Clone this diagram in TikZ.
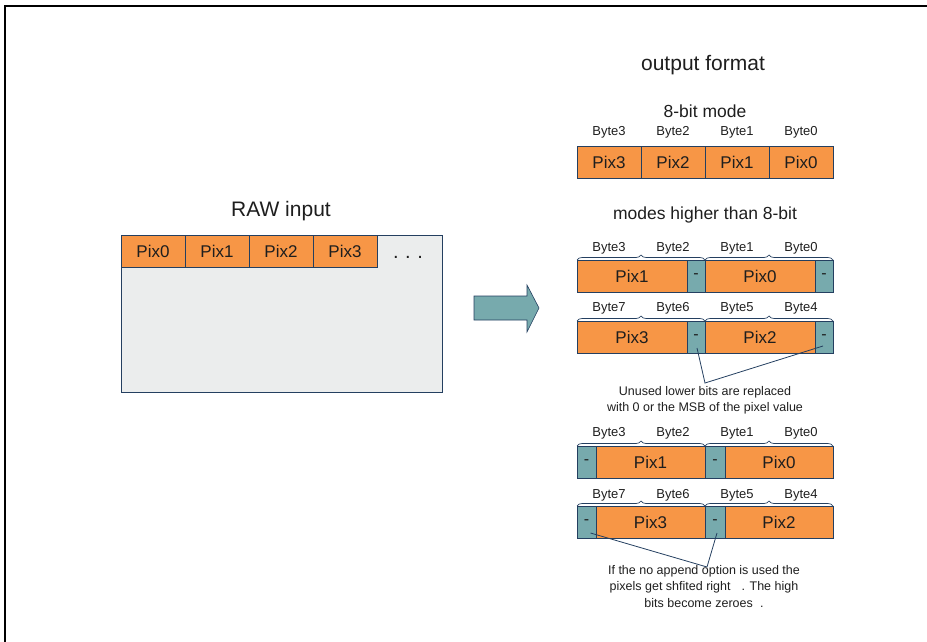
\documentclass[tikz,border=0pt]{standalone}
\usepackage{fontspec}
\setmainfont{Liberation Sans}
\usetikzlibrary{decorations.pathreplacing,calc}
\definecolor{cellorange}{HTML}{F79646}
\definecolor{cellteal}{HTML}{77AAAD}
\definecolor{navy}{HTML}{243F60}
\definecolor{rawgray}{HTML}{EBEDED}
\definecolor{txt}{HTML}{1E1E1E}
\tikzset{
  pix/.style={draw=navy, fill=cellorange, line width=0.8pt, minimum height=32pt,
    inner sep=0pt, outer sep=0pt, anchor=north west, text=txt,
    font=\fontsize{17}{20}\selectfont},
  pad/.style={pix, fill=cellteal, font=\fontsize{16}{18}\selectfont},
  bytelbl/.style={inner sep=0pt, text=txt, font=\fontsize{13}{15}\selectfont},
  title/.style={inner sep=0pt, text=txt, font=\fontsize{21}{24}\selectfont},
  subtitle/.style={inner sep=0pt, text=txt, font=\fontsize{17.5}{20}\selectfont},
  note/.style={inner sep=0pt, text=txt, align=center, font=\fontsize{12.5}{16}\selectfont},
  bracedec/.style={draw=navy, line width=0.7pt, decorate, decoration={brace, amplitude=5pt}},
  pointer/.style={draw=navy, line width=0.8pt},
}
\begin{document}
\begin{tikzpicture}[x=1pt,y=-1pt]
\useasboundingbox (0,0) rectangle (927,642);
% frame
\draw[line width=1.2pt] (5,642) -- (5,6) -- (927,6);

% RAW input
\node[title] (rawt) at (281,211) {RAW input};
\node[draw=navy, fill=rawgray, line width=0.8pt, minimum width=321pt, minimum height=157pt,
  inner sep=0pt, outer sep=0pt, anchor=north west] (raw) at (121,235) {};
\node[pix, minimum width=64pt] (r0) at (121,235) {Pix0};
\node[pix, minimum width=64pt] (r1) at (185,235) {Pix1};
\node[pix, minimum width=64pt] (r2) at (249,235) {Pix2};
\node[pix, minimum width=64pt] (r3) at (313,235) {Pix3};
\node[inner sep=0pt, anchor=base, text=txt, font=\fontsize{20}{22}\selectfont] (dots) at (408,258) {.\,\,.\,\,.};

% big arrow
\draw[draw=navy, fill=cellteal, line width=0.6pt]
  (474,296) -- (527,296) -- (527,285) -- (539,308) -- (527,332) -- (527,320) -- (474,320) -- cycle;

% output format
\node[title] (outt) at (703,65) {output format};
\node[subtitle] (m8) at (705,111) {8-bit mode};
\node[bytelbl] at (609,132) {Byte3};
\node[bytelbl] at (673,132) {Byte2};
\node[bytelbl] at (737,132) {Byte1};
\node[bytelbl] at (801,132) {Byte0};
\node[pix, minimum width=64pt] (e3) at (577,146) {Pix3};
\node[pix, minimum width=64pt] (e2) at (641,146) {Pix2};
\node[pix, minimum width=64pt] (e1) at (705,146) {Pix1};
\node[pix, minimum width=64pt] (e0) at (769,146) {Pix0};

\node[subtitle] (mh) at (705,215) {modes higher than 8-bit};

% row A
\node[bytelbl] at (609,248) {Byte3};
\node[bytelbl] at (673,248) {Byte2};
\node[bytelbl] at (737,248) {Byte1};
\node[bytelbl] at (801,248) {Byte0};
\node[pix, minimum width=110pt] (a1) at (577,260) {Pix1};
\node[pad, minimum width=18pt] (a1p) at (687,260) {-};
\node[pix, minimum width=110pt] (a0) at (705,260) {Pix0};
\node[pad, minimum width=18pt] (a0p) at (815,260) {-};
\draw[bracedec] (a1.north west) -- (a1p.north east);
\draw[bracedec] (a0.north west) -- (a0p.north east);

% row B
\node[bytelbl] at (609,308) {Byte7};
\node[bytelbl] at (673,308) {Byte6};
\node[bytelbl] at (737,308) {Byte5};
\node[bytelbl] at (801,308) {Byte4};
\node[pix, minimum width=110pt] (b3) at (577,321) {Pix3};
\node[pad, minimum width=18pt] (b3p) at (687,321) {-};
\node[pix, minimum width=110pt] (b2) at (705,321) {Pix2};
\node[pad, minimum width=18pt] (b2p) at (815,321) {-};
\draw[bracedec] (b3.north west) -- (b3p.north east);
\draw[bracedec] (b2.north west) -- (b2p.north east);

% note 1
\coordinate (j1) at (705,383);
\node[note, anchor=north] (note1) at (705,386) {Unused lower bits are replaced\\with 0 or the MSB of the pixel value};
\draw[pointer] ($(b3p.center)+(1,11)$) -- (j1) -- ($(b2p.center)+(-1,9)$);

% row C
\node[bytelbl] at (609,433) {Byte3};
\node[bytelbl] at (673,433) {Byte2};
\node[bytelbl] at (737,433) {Byte1};
\node[bytelbl] at (801,433) {Byte0};
\node[pad, minimum width=19pt] (c1p) at (577,446) {-};
\node[pix, minimum width=109pt] (c1) at (596,446) {Pix1};
\node[pad, minimum width=20pt] (c0p) at (705,446) {-};
\node[pix, minimum width=108pt] (c0) at (725,446) {Pix0};
\draw[bracedec] (c1p.north west) -- (c1.north east);
\draw[bracedec] (c0p.north west) -- (c0.north east);

% row D
\node[bytelbl] at (609,495) {Byte7};
\node[bytelbl] at (673,495) {Byte6};
\node[bytelbl] at (737,495) {Byte5};
\node[bytelbl] at (801,495) {Byte4};
\node[pad, minimum width=19pt] (d3p) at (577,506) {-};
\node[pix, minimum width=109pt] (d3) at (596,506) {Pix3};
\node[pad, minimum width=20pt] (d2p) at (705,506) {-};
\node[pix, minimum width=108pt] (d2) at (725,506) {Pix2};
\draw[bracedec] (d3p.north west) -- (d3.north east);
\draw[bracedec] (d2p.north west) -- (d2.north east);

% note 2
\coordinate (j2) at (707,567);
\node[note, anchor=north, font=\fontsize{12.5}{16.5}\selectfont] (note2) at (704,565)
  {If the no append option is used the\\pixels get shfited right\hspace{0.6em} . The high\\bits become zeroes\hspace{0.3em} .};
\draw[pointer] ($(d3p.center)+(4,11)$) -- (j2) -- ($(d2p.center)+(2,11)$);
\end{tikzpicture}
\end{document}
